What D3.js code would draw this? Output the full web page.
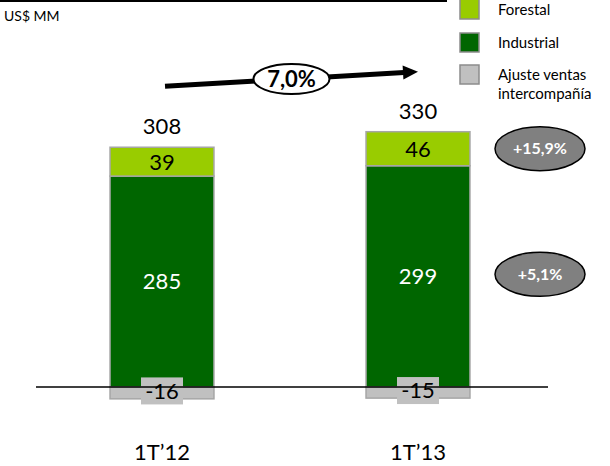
<!DOCTYPE html>
<html>
<head>
<meta charset="utf-8">
<script src="https://cdn.jsdelivr.net/npm/d3@7"></script>
<style>
  html, body { margin: 0; padding: 0; background: #fff; }
  svg { display: block; font-family: Lato, "Open Sans", "Liberation Sans", sans-serif; }
</style>
</head>
<body>
<svg id="chart" width="610" height="466"></svg>
<script>
// Ventas por segmento, US$ MM
const categories = ["1T\u201912", "1T\u201913"];
const forestal   = [39, 46];
const industrial = [285, 299];
const ajuste     = [-16, -15];
const segmentGrowth = ["+15,9%", "+5,1%"];   // Forestal, Industrial
const totalGrowth = "7,0%";
const legendLabels = ["Forestal", "Industrial", ["Ajuste ventas", "intercompañía"]];

const colors = { forestal: "#99cc00", industrial: "#006600", ajuste: "#c0c0c0" };

const svg = d3.select("#chart");

const x = d3.scaleBand()
  .domain(categories)
  .range([34, 546])
  .paddingInner(0.594)
  .paddingOuter(0.297);

const y = d3.scaleLinear().domain([0, 300]).range([387, 165]);

const totals = categories.map((c, i) => forestal[i] + industrial[i] + ajuste[i]);

// top rule
svg.append("line")
  .attr("x1", 0).attr("x2", 447).attr("y1", 1).attr("y2", 1)
  .attr("stroke", "#000").attr("stroke-width", 2);

svg.append("text")
  .attr("x", 4).attr("y", 21)
  .attr("font-size", 14).attr("fill", "#000")
  .text("US$ MM");

// stacked segments
const stacks = categories.map((c, i) => ([
  { key: "ajuste",     y0: 0, y1: ajuste[i], v: ajuste[i] },
  { key: "industrial", y0: 0, y1: industrial[i], v: industrial[i] },
  { key: "forestal",   y0: industrial[i], y1: industrial[i] + forestal[i], v: forestal[i] }
]));

const bars = svg.selectAll("g.bar")
  .data(categories)
  .join("g")
  .attr("class", "bar");

bars.each(function (c, i) {
  const g = d3.select(this);
  const bx = x(c), bw = x.bandwidth();
  g.selectAll("rect.seg")
    .data(stacks[i])
    .join("rect")
    .attr("class", "seg")
    .attr("x", bx)
    .attr("width", bw)
    .attr("y", d => y(Math.max(d.y0, d.y1)))
    .attr("height", d => Math.abs(y(d.y0) - y(d.y1)))
    .attr("fill", d => colors[d.key])
    .attr("stroke", "#a6a6a6")
    .attr("stroke-width", 1.5);
});

// zero line
svg.append("line")
  .attr("x1", 36).attr("x2", 548)
  .attr("y1", y(0)).attr("y2", y(0))
  .attr("stroke", "#000").attr("stroke-width", 1.5);

// segment labels
bars.each(function (c, i) {
  const g = d3.select(this);
  const cx = x(c) + x.bandwidth() / 2;
  const s = stacks[i];
  // forestal
  g.append("text")
    .attr("x", cx).attr("y", (y(s[2].y0) + y(s[2].y1)) / 2)
    .attr("dy", "0.36em").attr("text-anchor", "middle")
    .attr("font-size", 22).attr("fill", "#000")
    .text(s[2].v);
  // industrial
  g.append("text")
    .attr("x", cx).attr("y", (y(s[1].y0) + y(s[1].y1)) / 2)
    .attr("dy", "0.36em").attr("text-anchor", "middle")
    .attr("font-size", 22).attr("fill", "#fff")
    .text(s[1].v);
  // ajuste with boxed label
  const ay = (y(s[0].y0) + y(s[0].y1)) / 2 - 2;
  g.append("rect")
    .attr("x", cx - 21).attr("y", ay - 13.5)
    .attr("width", 42).attr("height", 27)
    .attr("fill", colors.ajuste);
  g.append("text")
    .attr("x", cx).attr("y", ay)
    .attr("dy", "0.36em").attr("text-anchor", "middle")
    .attr("font-size", 22).attr("fill", "#000")
    .text(s[0].v);
  // total
  g.append("text")
    .attr("x", cx).attr("y", y(industrial[i] + forestal[i]) - 13)
    .attr("text-anchor", "middle")
    .attr("font-size", 22).attr("fill", "#000")
    .text(totals[i]);
  // category
  g.append("text")
    .attr("x", cx).attr("y", 460)
    .attr("text-anchor", "middle")
    .attr("font-size", 22).attr("fill", "#000")
    .text(c);
});

// total growth arrow
const c0 = x(categories[0]) + x.bandwidth() / 2;
const c1 = x(categories[1]) + x.bandwidth() / 2;
const top0 = y(industrial[0] + forestal[0]);
const top1 = y(industrial[1] + forestal[1]);
const ax0 = c0 + 3, ay0 = top0 - 61;
const ax1 = c1, ay1 = top1 - 60;
const ang = Math.atan2(ay1 - ay0, ax1 - ax0);
const headLen = 15, headHalf = 7;
const bx0 = ax1 - headLen * Math.cos(ang), by0 = ay1 - headLen * Math.sin(ang);
svg.append("line")
  .attr("x1", ax0).attr("y1", ay0)
  .attr("x2", bx0 + 1).attr("y2", by0)
  .attr("stroke", "#000").attr("stroke-width", 5);
svg.append("path")
  .attr("d", d3.line()([
    [ax1, ay1],
    [bx0 + headHalf * Math.sin(ang), by0 - headHalf * Math.cos(ang)],
    [bx0 - headHalf * Math.sin(ang), by0 + headHalf * Math.cos(ang)]
  ]) + "Z")
  .attr("fill", "#000");
const mx = (ax0 + ax1) / 2, my = (ay0 + ay1) / 2;
svg.append("ellipse")
  .attr("cx", mx).attr("cy", my).attr("rx", 38).attr("ry", 15)
  .attr("fill", "#fff").attr("stroke", "#000").attr("stroke-width", 2);
svg.append("text")
  .attr("x", mx).attr("y", my).attr("dy", "0.36em")
  .attr("text-anchor", "middle")
  .attr("font-size", 22).attr("font-weight", "bold").attr("fill", "#000")
  .text(totalGrowth);

// segment growth bubbles, aligned with the latest bar's segments
const s1 = stacks[1];
const growthY = [(y(s1[2].y0) + y(s1[2].y1)) / 2, (y(s1[1].y0) + y(s1[1].y1)) / 2 - 2];
segmentGrowth.forEach((g, i) => {
  svg.append("ellipse")
    .attr("cx", 540).attr("cy", growthY[i]).attr("rx", 45).attr("ry", 22)
    .attr("fill", "#808080").attr("stroke", "#000").attr("stroke-width", 1.5);
  svg.append("text")
    .attr("x", 540).attr("y", growthY[i]).attr("dy", "0.36em")
    .attr("text-anchor", "middle")
    .attr("font-size", 16).attr("font-weight", "bold").attr("fill", "#fff")
    .text(g);
});

// legend
const legendKeys = ["forestal", "industrial", "ajuste"];
const legendY = [0, 33, 65];
legendKeys.forEach((k, i) => {
  svg.append("rect")
    .attr("x", 460).attr("y", legendY[i] - (i === 0 ? 2 : 0))
    .attr("width", 19).attr("height", i === 0 ? 21 : 19)
    .attr("fill", colors[k]).attr("stroke", "#8c8c8c").attr("stroke-width", 1.5);
  const lab = legendLabels[i];
  const lines = Array.isArray(lab) ? lab : [lab];
  const t = svg.append("text")
    .attr("x", 498).attr("y", legendY[i] + 15)
    .attr("font-size", 15).attr("fill", "#000");
  lines.forEach((ln, j) => {
    t.append("tspan").attr("x", 498).attr("dy", j === 0 ? 0 : 19).text(ln);
  });
});
</script>
</body>
</html>
